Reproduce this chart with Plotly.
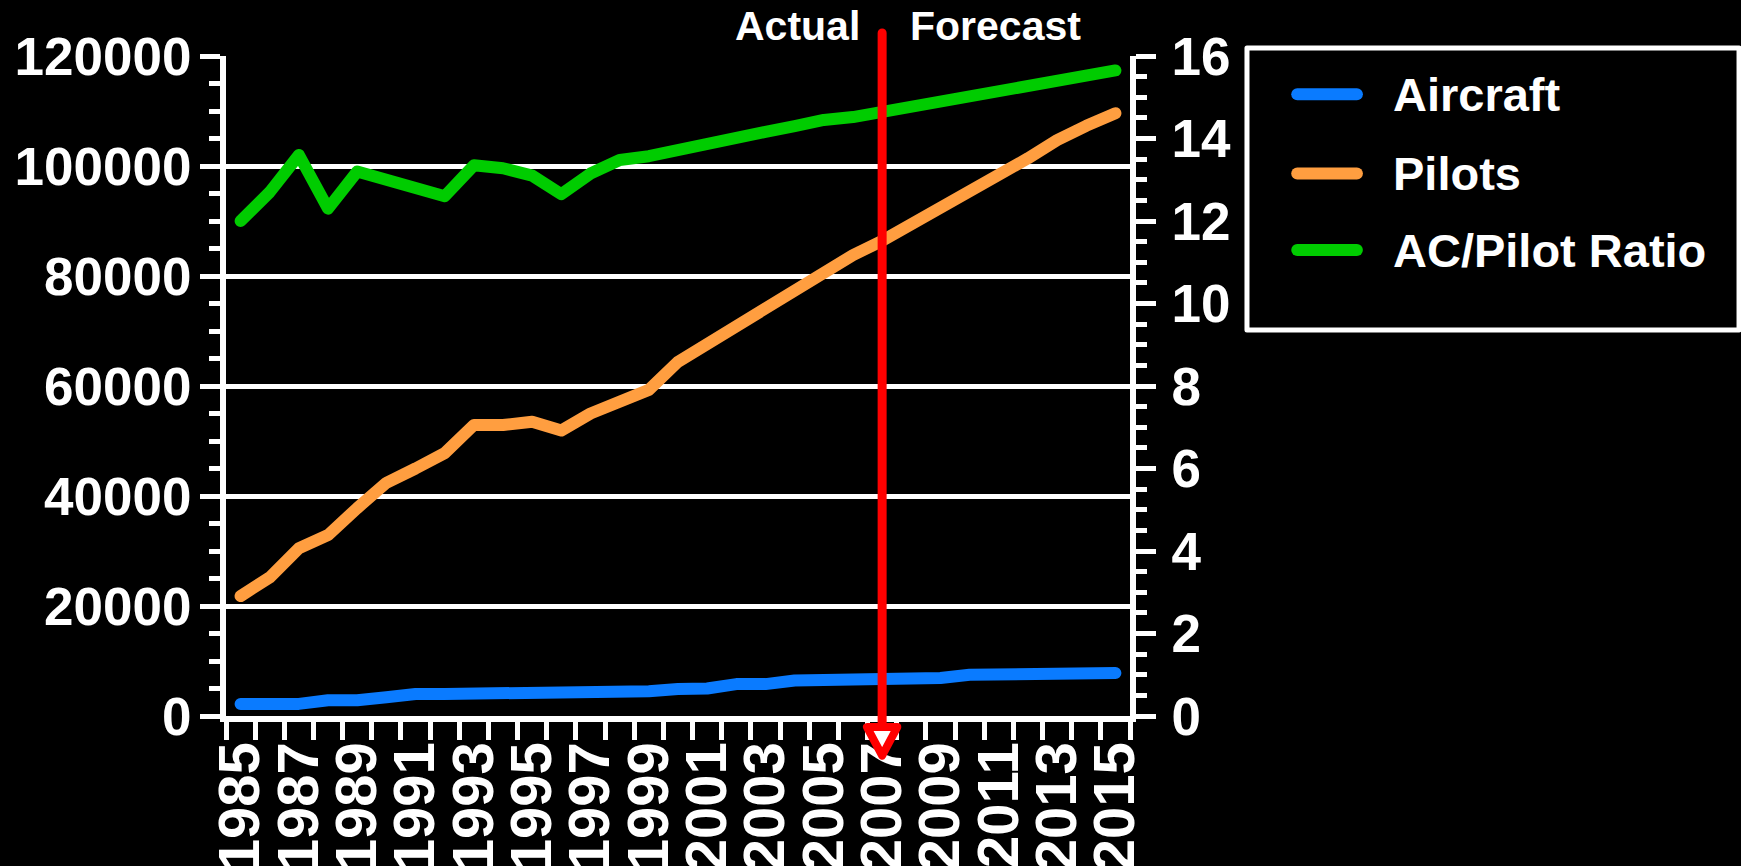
import plotly.graph_objects as go

# ---- data ----
years = list(range(1985, 2016))
aircraft = [2200, 2200, 2200, 2850, 2850, 3400, 4000, 4000, 4000, 4500,
            4500, 4500, 4500, 4500, 4500, 4900, 5000, 5800, 5800, 6450,
            6450, 6450, 6900, 6900, 6900, 7500, 7500, 7500, 7500, 7800, 7800]
pilots = [21800, 25200, 30500, 32900, 37800, 42400, 45000, 47800, 52900, 52900,
          53500, 51900, 55000, 57100, 59300, 64400, 67600, 71100, 74400, 77500,
          81000, 83800, 86400, 89300, 92000, 95300, 98400, 101400, 104700, 107300, 109600]
ac_pilot_ratio = [12.0, 12.7, 13.6, 12.3, 13.2, 13.0, 12.75, 12.6, 13.35, 13.28,
                  13.1, 12.65, 13.15, 13.48, 13.57, 13.7, 13.9, 14.0, 14.16, 14.3,
                  14.45, 14.52, 14.65, 14.8, 14.93, 15.0, 15.15, 15.3, 15.46, 15.53, 15.65]
series_names = ["Aircraft", "Pilots", "AC/Pilot Ratio"]
series_colors = ["#0A7BFF", "#FF9E40", "#00CC00"]
split_year = 2007
x_tick_years = years[::2]

FONT = "Liberation Sans, Arial, sans-serif"
W, H = 1741, 866
LINE_W = 12

fig = go.Figure()
fig.add_trace(go.Scatter(x=years, y=aircraft, name=series_names[0], mode="lines",
                         line=dict(color=series_colors[0], width=LINE_W), yaxis="y"))
fig.add_trace(go.Scatter(x=years, y=pilots, name=series_names[1], mode="lines",
                         line=dict(color=series_colors[1], width=LINE_W), yaxis="y"))
fig.add_trace(go.Scatter(x=years, y=ac_pilot_ratio, name=series_names[2], mode="lines",
                         line=dict(color=series_colors[2], width=LINE_W), yaxis="y2"))

shapes = []
annotations = []

# Actual / Forecast divider with arrowhead
shapes.append(dict(type="line", xref="x", yref="paper", x0=split_year, x1=split_year,
                   y0=-0.0167, y1=1.035, line=dict(color="#FF0000", width=9), layer="above"))
shapes.append(dict(type="path", xref="x", yref="paper",
                   path=f"M {split_year - 0.52},-0.0167 L {split_year + 0.52},-0.0167 "
                        f"L {split_year},-0.0600 Z",
                   fillcolor="white", line=dict(color="#FF0000", width=8), layer="above"))
annotations.append(dict(text="Actual", xref="x", yref="paper", x=split_year, y=1.045,
                        xanchor="right", yanchor="middle", xshift=-20, showarrow=False,
                        font=dict(family=FONT, size=41, color="white", weight="bold")))
annotations.append(dict(text="Forecast", xref="x", yref="paper", x=split_year, y=1.045,
                        xanchor="left", yanchor="middle", xshift=26, showarrow=False,
                        font=dict(family=FONT, size=41, color="white", weight="bold")))

# Legend box
shapes.append(dict(type="rect", xref="paper", yref="paper", x0=1.1294, x1=1.6737,
                   y0=0.5848, y1=1.0121, line=dict(color="white", width=5),
                   fillcolor="black", layer="above"))
row_y = [0.9420, 0.8220, 0.7060]
for name, color, yy in zip(series_names, series_colors, row_y):
    shapes.append(dict(type="line", xref="paper", yref="paper", x0=1.1850, x1=1.2510,
                       y0=yy, y1=yy, line=dict(color=color, width=12), layer="above"))
    annotations.append(dict(text=name, xref="paper", yref="paper", x=1.2887, y=yy,
                            xanchor="left", yanchor="middle", showarrow=False,
                            font=dict(family=FONT, size=47, color="white", weight="bold")))

tick_font = dict(family=FONT, size=53, color="white", weight="bold")

fig.update_layout(
    width=W, height=H,
    paper_bgcolor="black", plot_bgcolor="black",
    margin=dict(l=226, r=611, t=56, b=150, autoexpand=False),
    showlegend=False,
    font=dict(family=FONT, color="white"),
    shapes=shapes, annotations=annotations,
    xaxis=dict(
        range=[1984.5, 2015.5], tickmode="array", tickvals=x_tick_years,
        ticktext=[str(y) for y in x_tick_years], tickangle=-90,
        ticks="outside", ticklen=0, tickwidth=5, tickcolor="rgba(0,0,0,0)",
        tickfont=dict(family=FONT, size=58, color="white", weight="bold"),
        ticklabelstandoff=-3,
        showline=True, linecolor="white", linewidth=6, mirror=False,
        showgrid=False, zeroline=False, automargin=False,
        minor=dict(ticks="outside", tick0=1984.5, dtick=1, ticklen=18, tickwidth=5,
                   tickcolor="white", showgrid=False),
    ),
    yaxis=dict(
        range=[0, 120000], tickmode="linear", tick0=0, dtick=20000, tickformat="d",
        ticks="outside", ticklen=20, tickwidth=5, tickcolor="white",
        tickfont=tick_font, ticklabelstandoff=-2,
        showline=True, linecolor="white", linewidth=6,
        showgrid=True, gridcolor="white", gridwidth=5, zeroline=False, automargin=False,
        minor=dict(ticks="outside", dtick=5000, ticklen=11, tickwidth=5,
                   tickcolor="white", showgrid=False),
    ),
    yaxis2=dict(
        range=[0, 16], overlaying="y", side="right", tickmode="linear", tick0=0, dtick=2,
        ticks="outside", ticklen=20, tickwidth=5, tickcolor="white",
        tickfont=tick_font, ticklabelstandoff=5,
        showline=True, linecolor="white", linewidth=6,
        showgrid=False, zeroline=False, automargin=False,
        minor=dict(ticks="outside", dtick=0.5, ticklen=11, tickwidth=5,
                   tickcolor="white", showgrid=False),
    ),
)

# rounded ends on the series lines and legend swatches
round_caps = """
var gd = document.querySelector('.plotly-graph-div');
function roundCaps() {
  gd.querySelectorAll('.scatterlayer .js-line, .shapelayer path').forEach(function (p) {
    p.style.strokeLinecap = 'round';
    p.style.strokeLinejoin = 'round';
  });
}
roundCaps();
gd.on('plotly_afterplot', roundCaps);
"""

fig.write_html("out.html", post_script=round_caps)
